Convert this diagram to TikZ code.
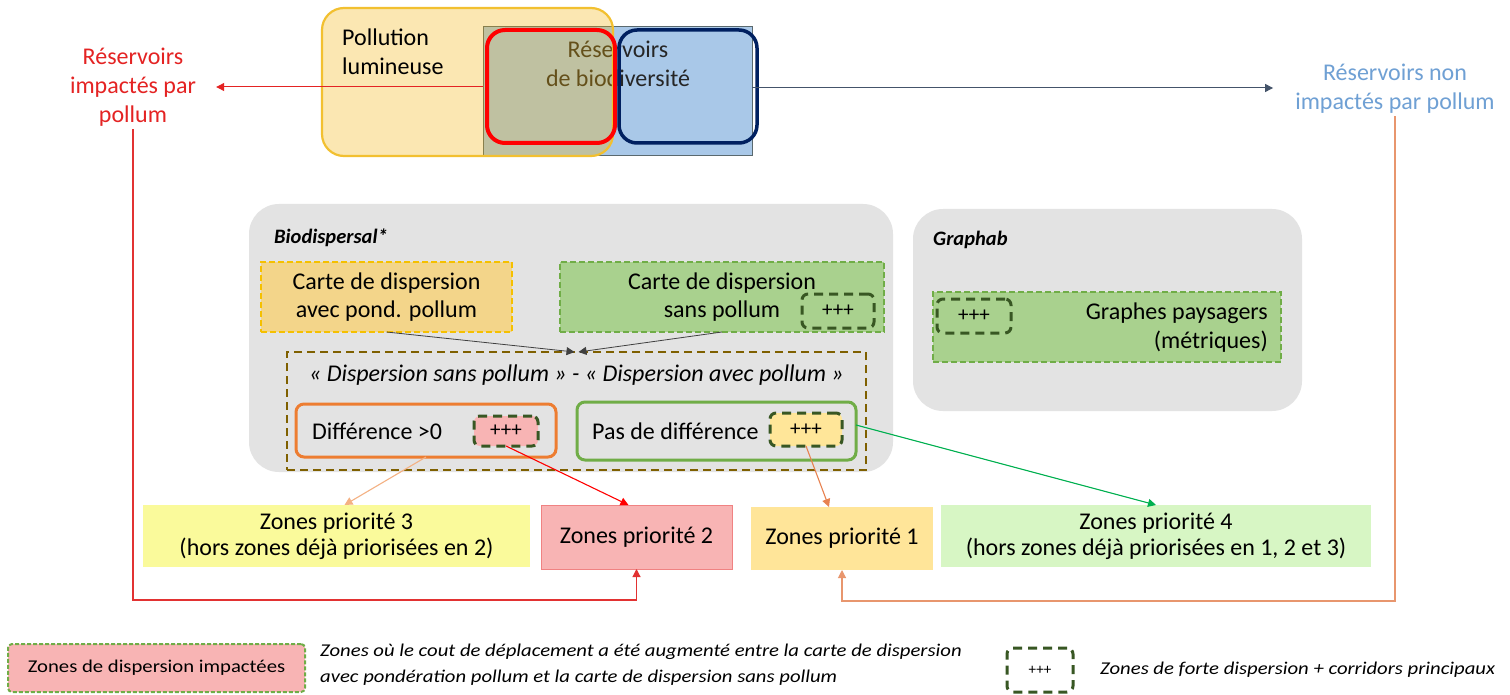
\documentclass[tikz,border=0pt]{standalone}
\usepackage{fontspec}
\setmainfont{Carlito}
\newfontfamily\legfont{Carlito}[FakeStretch=1.15]
\usetikzlibrary{arrows.meta,calc}
\definecolor{resblue}{RGB}{169,200,232}
\definecolor{slateb}{RGB}{90,105,110}
\definecolor{polgold}{RGB}{245,178,0}
\definecolor{polborder}{RGB}{242,192,48}
\definecolor{navyb}{RGB}{0,32,96}
\definecolor{resred}{RGB}{228,35,35}
\definecolor{resbluetxt}{RGB}{111,160,212}
\definecolor{arrslate}{RGB}{68,84,106}
\definecolor{panel}{RGB}{227,227,227}
\definecolor{cavecfill}{RGB}{243,213,138}
\definecolor{cavecb}{RGB}{245,192,0}
\definecolor{csfill}{RGB}{169,209,142}
\definecolor{csborder}{RGB}{112,173,71}
\definecolor{brownd}{RGB}{127,96,0}
\definecolor{plusg}{RGB}{56,87,35}
\definecolor{difforange}{RGB}{237,125,49}
\definecolor{pasgreen}{RGB}{112,173,71}
\definecolor{pinkfill}{RGB}{248,180,180}
\definecolor{yelfill}{RGB}{255,230,153}
\definecolor{zthree}{RGB}{250,250,155}
\definecolor{ztwo}{RGB}{248,180,180}
\definecolor{ztwob}{RGB}{240,130,130}
\definecolor{zone}{RGB}{255,229,153}
\definecolor{zfour}{RGB}{215,246,196}
\definecolor{lorange}{RGB}{244,177,131}
\definecolor{morange}{RGB}{232,130,80}
\definecolor{agreen}{RGB}{0,176,80}
\definecolor{lineorange}{RGB}{232,150,110}
\definecolor{linered}{RGB}{226,50,50}
\tikzset{
  txt/.style={inner sep=0pt, align=center, text=black},
  arr/.style={-{Triangle[length=8pt,width=8pt]}, line width=1.1pt},
  boxnw/.style={anchor=north west, inner sep=0pt, align=center, outer sep=0pt},
  plusbox/.style={boxnw, draw=plusg, dash pattern=on 9pt off 6pt, line width=3pt, rounded corners=6pt, font=\fontsize{21}{24}\selectfont},
  dashcard/.style={boxnw, dash pattern=on 6pt off 3pt, line width=1.6pt},
}
\begin{document}
\begin{tikzpicture}[x=1pt,y=-1pt, font=\fontsize{24}{28}\selectfont]
\useasboundingbox (0,0) rectangle (1510,695);
\fill[white] (0,0) rectangle (1510,695);

% ---------- top ----------
\node[boxnw, fill=resblue, draw=slateb, line width=1pt, minimum width=269pt, minimum height=129pt] (brect) at (483,27) {};
\node[txt, text=black!85, font=\fontsize{24}{29}\selectfont] (rtitle) at (618,63.5) {Réservoirs\\de biodiversité};
\node[boxnw, fill=polgold, fill opacity=0.3, draw=polborder, line width=2.2pt, rounded corners=22pt, minimum width=291pt, minimum height=148pt] (pol) at (322,8) {};
\node[txt, align=left, anchor=west, font=\fontsize{24}{29}\selectfont] (poltext) at (342,51.5) {Pollution\\lumineuse};
\node[boxnw, draw=red, line width=4pt, rounded corners=18pt, minimum width=128pt, minimum height=113pt] (rbox) at (487,30) {};
\node[boxnw, draw=navyb, line width=3.5pt, rounded corners=18pt, minimum width=138pt, minimum height=113pt] (nbox) at (619,30) {};

\node[txt, text=resred, font=\fontsize{24}{29}\selectfont] (rtext) at (133,87) {Réservoirs\\impactés par\\pollum};
\node[txt, text=resbluetxt, font=\fontsize{24}{29}\selectfont] (btext) at (1395,88.5) {Réservoirs non\\impactés par pollum};

\draw[arr, draw=resred, line width=1pt] (brect.west |- 0,87) -- ([xshift=20pt]rtext.east |- 0,87);
\draw[arr, draw=arrslate, line width=1pt] (brect.east |- 0,88) -- ([xshift=-22pt]btext.west |- 0,88);

% ---------- Biodispersal ----------
\node[boxnw, fill=panel, rounded corners=30pt, minimum width=644pt, minimum height=268pt] (bio) at (249,204) {};
\node[txt, anchor=west, font=\fontsize{20.5}{28}\selectfont\bfseries\itshape] (biot) at (274,238) {Biodispersal*};
\node[dashcard, fill=cavecfill, draw=cavecb, minimum width=251pt, minimum height=70pt] (ca) at (261,262) {Carte de dispersion\\avec pond. pollum};
\node[dashcard, fill=csfill, draw=csborder, minimum width=324pt, minimum height=70pt] (cs) at (560,262) {Carte de dispersion\\sans pollum};
\node[plusbox, minimum width=72pt, minimum height=34pt] (p0) at (802,294) {+++};

\node[boxnw, draw=brownd, dash pattern=on 8pt off 5pt, line width=2pt, minimum width=579pt, minimum height=118pt] (dd) at (287,352) {};
\node[txt, font=\fontsize{24}{28}\selectfont\itshape] (ddt) at (576.5,375) {« Dispersion sans pollum » - « Dispersion avec pollum »};

\node[boxnw, draw=difforange, line width=3pt, rounded corners=8pt, minimum width=260pt, minimum height=53pt] (diff) at (296,404) {};
\node[txt, anchor=west] (difft) at (312,431) {Différence >0};
\node[plusbox, fill=pinkfill, minimum width=64pt, minimum height=30pt] (p1) at (474,416) {+++};

\node[boxnw, draw=pasgreen, line width=3pt, rounded corners=8pt, minimum width=279pt, minimum height=58pt] (pas) at (577,402) {};
\node[txt, anchor=west] (past) at (592,431) {Pas de différence};
\node[plusbox, fill=yelfill, minimum width=72pt, minimum height=33pt] (p2) at (770,413) {+++};

% ---------- Graphab ----------
\node[boxnw, fill=panel, rounded corners=30pt, minimum width=389pt, minimum height=202pt] (gra) at (913,209) {};
\node[txt, anchor=west, font=\fontsize{20.5}{28}\selectfont\bfseries\itshape] (grat) at (933,240) {Graphab};
\node[dashcard, fill=csfill, draw=csborder, minimum width=348pt, minimum height=70pt] (gp) at (933,292) {};
\node[txt, align=right, anchor=east, font=\fontsize{24}{29}\selectfont] (gpt) at (1268,327.5) {Graphes paysagers\\(métriques)};
\node[plusbox, minimum width=74pt, minimum height=34pt] (p3) at (937,299) {+++};

% ---------- zones ----------
\node[boxnw, fill=zthree, minimum width=387pt, minimum height=62pt, font=\fontsize{24}{26}\selectfont] (z3) at (143,505) {Zones priorité 3\\(hors zones déjà priorisées en 2)};
\node[boxnw, fill=ztwo, draw=ztwob, line width=0.8pt, minimum width=191pt, minimum height=64pt] (z2) at (541,505) {Zones priorité 2};
\node[boxnw, fill=zone, minimum width=182pt, minimum height=63pt] (z1) at (751,507) {Zones priorité 1};
\node[boxnw, fill=zfour, minimum width=430pt, minimum height=62pt, font=\fontsize{24}{26}\selectfont] (z4) at (941,505) {Zones priorité 4\\(hors zones déjà priorisées en 1, 2 et 3)};

% ---------- connectors ----------
\draw[arr, draw=black!75, line width=0.8pt] (ca.south) -- ([xshift=-2pt]dd.north);
\draw[arr, draw=black!75, line width=0.8pt] (cs.south) -- ([xshift=2pt]dd.north);
\draw[arr, draw=lorange] (diff.south) -- ([xshift=8pt]z3.north);
\draw[arr, draw=red] (p1.south) -- ([xshift=-8pt]z2.north);
\draw[arr, draw=morange] (p2.south) -- ([xshift=-13pt]z1.north);
\draw[arr, draw=agreen] ([yshift=6pt]pas.east) -- (z4.north);

\coordinate (rl) at (133,600);
\coordinate (ol) at (1396,601);
\draw[arr, draw=linered] ([yshift=-3pt]rtext.south) -- (rtext.south |- rl) -| (z2.south);
\draw[arr, draw=lineorange] ([yshift=-3pt]btext.south) -- (btext.south |- ol) -| (z1.south);

% ---------- legend ----------
\node[boxnw, fill=pinkfill, draw=csborder, dash pattern=on 4pt off 2pt, line width=2pt, rounded corners=4pt, minimum width=297pt, minimum height=48pt, font=\legfont\fontsize{18}{20}\selectfont] (lg1) at (8,644) {Zones de dispersion impactées};
\node[txt, align=left, anchor=west, font=\legfont\fontsize{18}{26}\selectfont\itshape] (lgt1) at (320,665) {Zones où le cout de déplacement a été augmenté entre la carte de dispersion\\avec pondération pollum et la carte de dispersion sans pollum};
\node[plusbox, minimum width=66pt, minimum height=44pt, font=\fontsize{15}{16}\selectfont] (lg2) at (1007,648) {+++};
\node[txt, anchor=west, font=\legfont\fontsize{18}{20}\selectfont\itshape] (lgt2) at (1100,670) {Zones de forte dispersion + corridors principaux};
\end{tikzpicture}
\end{document}
